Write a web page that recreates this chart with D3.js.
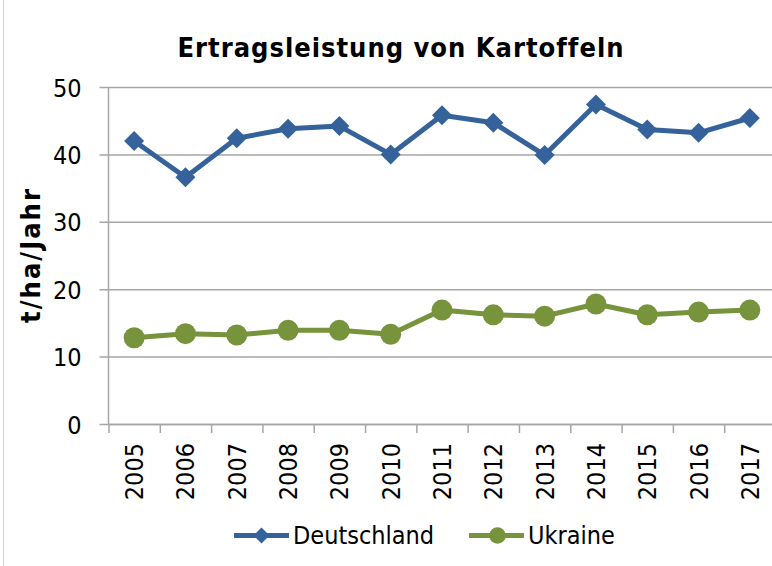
<!DOCTYPE html>
<html>
<head>
<meta charset="utf-8">
<script src="https://cdn.jsdelivr.net/npm/d3@7"></script>
<style>
  html, body { margin: 0; padding: 0; background: #fff; }
  svg { display: block; }
  text { font-family: "DejaVu Sans Condensed", "DejaVu Sans", sans-serif; fill: #000; }
  .grid line { stroke: #a6a6a6; stroke-width: 1.5; }
  .axis path, .axis line { stroke: #a6a6a6; stroke-width: 1.5; }
</style>
</head>
<body>
<svg id="chart" width="772" height="566"></svg>
<script>
// data
const years = ['2005', '2006', '2007', '2008', '2009', '2010', '2011', '2012', '2013', '2014', '2015', '2016', '2017'];
const deutschland = [42.0, 36.6, 42.4, 43.8, 44.2, 40.0, 45.8, 44.7, 39.9, 47.4, 43.7, 43.2, 45.4];
const ukraine = [12.8, 13.4, 13.2, 13.9, 13.9, 13.3, 16.9, 16.2, 16.0, 17.8, 16.2, 16.6, 16.9];
const yTicks = [0, 10, 20, 30, 40, 50];

const BLUE = '#35629a';
const GREEN = '#77933c';

const svg = d3.select('#chart');
const W = 772;
const plot = { left: 108.5, right: 775.5, top: 87, bottom: 424 };

const x = d3.scaleBand().domain(years).range([plot.left, plot.right]);
const xEdge = d3.scaleLinear().domain([0, years.length]).range([plot.left, plot.right]);
const y = d3.scaleLinear().domain([0, 50]).range([plot.bottom, plot.top]);

// outer chart border (only left edge visible)
svg.append('line')
  .attr('x1', 3.5).attr('x2', 3.5).attr('y1', 0).attr('y2', 566)
  .attr('stroke', '#d0d0d0').attr('stroke-width', 1);

// title
svg.append('text')
  .attr('x', 401).attr('y', 57)
  .attr('text-anchor', 'middle')
  .attr('font-family', 'DejaVu Sans')
  .attr('font-size', 27).attr('font-weight', 'bold')
  .attr('letter-spacing', 1)
  .text('Ertragsleistung von Kartoffeln');

// gridlines incl. left tick stubs
svg.append('g').attr('class', 'grid')
  .attr('transform', `translate(${plot.left - 9},0)`)
  .call(d3.axisLeft(y).tickValues(yTicks).tickSize(-(W - plot.left + 9)).tickFormat(''))
  .call((g) => g.select('.domain').remove());

// y axis labels
svg.append('g').attr('class', 'axis y')
  .attr('transform', `translate(${plot.left},0)`)
  .call(d3.axisLeft(y).tickValues(yTicks).tickSize(0).tickPadding(27).tickSizeOuter(0))
  .call((g) => g.select('.domain').remove())
  .selectAll('text').attr('font-size', 25).attr('font-family', null).attr('dy', '0.36em');

// y axis line
svg.append('line')
  .attr('x1', plot.left).attr('x2', plot.left)
  .attr('y1', plot.top).attr('y2', plot.bottom)
  .attr('stroke', '#a6a6a6').attr('stroke-width', 1.5);

// x axis ticks at category edges
svg.append('g').attr('class', 'axis')
  .attr('transform', `translate(0,${plot.bottom})`)
  .call(d3.axisBottom(xEdge).tickValues(d3.range(years.length + 1)).tickSize(9).tickFormat('').tickSizeOuter(0));

// x labels (rotated)
svg.append('g')
  .selectAll('text').data(years).enter().append('text')
  .attr('transform', (d) => `translate(${x(d) + x.bandwidth() / 2 + 9},${plot.bottom + 19}) rotate(-90)`)
  .attr('text-anchor', 'end')
  .attr('font-size', 25)
  .text((d) => d);

// y axis title
svg.append('text')
  .attr('transform', 'translate(40,255) rotate(-90)')
  .attr('text-anchor', 'middle')
  .attr('font-family', 'DejaVu Sans')
  .attr('font-size', 27).attr('font-weight', 'bold')
  .attr('letter-spacing', 2)
  .text('t/ha/Jahr');

const cx = (i) => x(years[i]) + x.bandwidth() / 2;
const line = d3.line().x((d, i) => cx(i)).y((d) => y(d));

// Deutschland
svg.append('path').datum(deutschland)
  .attr('d', line).attr('fill', 'none')
  .attr('stroke', BLUE).attr('stroke-width', 5).attr('stroke-linejoin', 'round');
svg.append('g').selectAll('path').data(deutschland).enter().append('path')
  .attr('d', d3.symbol().type(d3.symbolSquare).size(200))
  .attr('transform', (d, i) => `translate(${cx(i)},${y(d)}) rotate(45)`)
  .attr('fill', BLUE);

// Ukraine
svg.append('path').datum(ukraine)
  .attr('d', line).attr('fill', 'none')
  .attr('stroke', GREEN).attr('stroke-width', 5).attr('stroke-linejoin', 'round');
svg.append('g').selectAll('circle').data(ukraine).enter().append('circle')
  .attr('cx', (d, i) => cx(i)).attr('cy', (d) => y(d)).attr('r', 10.5)
  .attr('fill', GREEN);

// legend
const legend = [
  { name: 'Deutschland', color: BLUE, x: 234, marker: 'diamond' },
  { name: 'Ukraine', color: GREEN, x: 469, marker: 'circle' },
];
const ly = 535.5;
const lg = svg.append('g').selectAll('g').data(legend).enter().append('g')
  .attr('transform', (d) => `translate(${d.x},${ly})`);
lg.append('line').attr('x1', 0).attr('x2', 55).attr('y1', 0).attr('y2', 0)
  .attr('stroke', (d) => d.color).attr('stroke-width', 5);
lg.each(function (d) {
  const g = d3.select(this);
  if (d.marker === 'diamond') {
    g.append('path').attr('d', d3.symbol().type(d3.symbolSquare).size(128))
      .attr('transform', 'translate(27.5,0) rotate(45)').attr('fill', d.color);
  } else {
    g.append('circle').attr('cx', 28.5).attr('cy', 0).attr('r', 8.3).attr('fill', d.color);
  }
});
lg.append('text').attr('x', 59).attr('y', 8.5)
  .attr('font-size', 25)
  .text((d) => d.name);
</script>
</body>
</html>
